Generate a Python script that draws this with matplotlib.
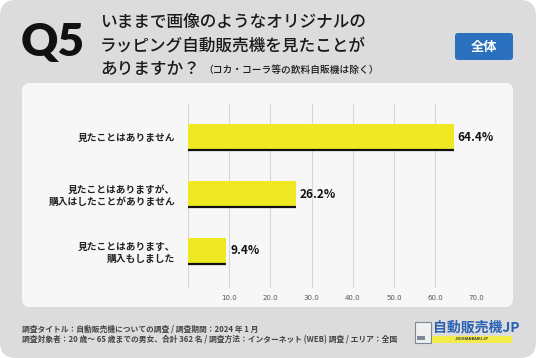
import matplotlib
matplotlib.use('Agg')
from matplotlib import pyplot as plt
from matplotlib.patches import FancyBboxPatch, Rectangle

plt.rcParams['font.family'] = ['Noto Sans CJK JP', 'DejaVu Sans']

# data
categories = ['見たことはありません',
              '見たことはありますが、\n購入はしたことがありません',
              '見たことはあります、\n購入もしました']
values = [64.4, 26.2, 9.4]
ticks = [10, 20, 30, 40, 50, 60, 70]

title_lines = ['いままで画像のようなオリジナルの',
               'ラッピング自動販売機を見たことが',
               'ありますか？']
note = '（コカ・コーラ等の飲料自販機は除く）'
footer = ['調査タイトル：自動販売機についての調査 / 調査期間：2024 年 1 月',
          '調査対象者：20 歳～ 65 歳までの男女、合計 362 名 / 調査方法：インターネット (WEB) 調査 / エリア：全国']

W, H = 536, 358
fig = plt.figure(figsize=(W / 100, H / 100), dpi=100)
fig.patch.set_facecolor('white')

# background layer in pixel coords
bg = fig.add_axes([0, 0, 1, 1])
bg.set_xlim(0, W)
bg.set_ylim(H, 0)
bg.axis('off')

bg.add_patch(FancyBboxPatch((0, 0), W, H, boxstyle='round,pad=0,rounding_size=16',
                            fc='#dcdcdc', ec='none'))
bg.add_patch(FancyBboxPatch((22, 83), 491, 224, boxstyle='round,pad=0,rounding_size=8',
                            fc='#f7f7f7', ec='none'))

# header
bg.text(21, 43, 'Q5', fontsize=33, fontweight='heavy', family=['Lato', 'DejaVu Sans'],
        va='center', ha='left', color='#111111')
for i, line in enumerate(title_lines):
    bg.text(100, 22 + i * 23.5, line, fontsize=12, fontweight='medium',
            va='center', ha='left', color='#1a1a1a')
bg.text(203, 70, note, fontsize=7, fontweight='medium', va='center', ha='left',
        color='#1a1a1a')

bg.add_patch(FancyBboxPatch((455, 33), 58, 27, boxstyle='round,pad=0,rounding_size=3',
                            fc='#2a70bf', ec='none'))
bg.text(484, 46.5, '全体', fontsize=9.5, fontweight='bold', color='white',
        ha='center', va='center')

# footer
for i, line in enumerate(footer):
    bg.text(22, 329 + i * 11, line, fontsize=5.6, fontweight='bold', color='#444444',
            va='center', ha='left')

# logo
bg.add_patch(Rectangle((415, 322), 16, 21, fc='#f0f0f0', ec='#7a8a9a', lw=0.8))
bg.add_patch(Rectangle((417, 336), 8, 4, fc='#7a8a9a', ec='none'))
bg.text(433, 327, '自動販売機JP', fontsize=10, fontweight='bold', color='#2a63b5',
        va='center', ha='left')
bg.add_patch(Rectangle((432, 336), 80, 7, fc='#f2ec4a', ec='none'))
bg.text(472, 339.5, 'JIDOHANBAIKI.JP', fontsize=2.8, color='#333333',
        va='center', ha='center', fontweight='bold')

# chart axes: x 0..70 -> px 187.6..476.7, y top 104 bottom 288
x0, x1 = 187.6, 476.7
ytop, ybot = 104, 288
ax = fig.add_axes([x0 / W, 1 - ybot / H, (x1 - x0) / W, (ybot - ytop) / H])
ax.set_facecolor('none')
ax.set_xlim(0, 70)
ax.set_ylim(2.65, -0.58)

pos = list(range(len(values)))
bh = 0.45
ax.barh(pos, values, height=bh, color='#efe924', zorder=3)
for y, v in zip(pos, values):
    ax.plot([0, v], [y + bh / 2, y + bh / 2], color='#111111', lw=1.6,
            solid_capstyle='butt', zorder=4)
    ax.text(v + 1.0, y, '{:.1f}%'.format(v), fontsize=8.5, fontweight='bold',
            va='center', ha='left', color='#111111', clip_on=False)

for t in [0] + ticks:
    ax.axvline(t, color='#d6d6d6', lw=0.8, zorder=1)

ax.set_xticks(ticks)
ax.set_xticklabels(['{:.1f}'.format(t) for t in ticks], fontsize=5, color='#555555',
                   family=['DejaVu Sans'])
ax.tick_params(axis='x', length=0, pad=5)
ax.set_yticks(pos)
ax.set_yticklabels(categories, fontsize=7, fontweight='bold', color='#222222',
                   linespacing=1.3)
ax.tick_params(axis='y', length=0, pad=9)
for s in ax.spines.values():
    s.set_visible(False)

plt.savefig('out.png', dpi=100)
